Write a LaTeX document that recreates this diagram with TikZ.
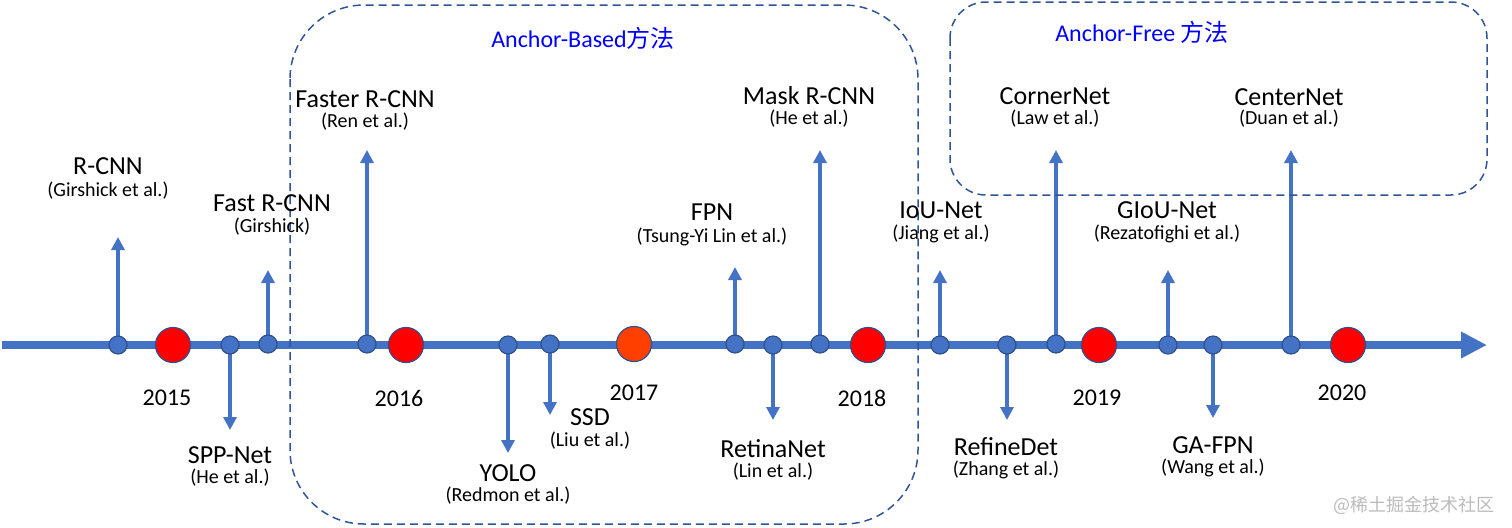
\documentclass[tikz,border=0pt]{standalone}
\usepackage{fontspec}
\setmainfont{Carlito}
\newfontfamily\cjk{Noto Sans CJK SC}
\usetikzlibrary{arrows.meta,backgrounds}
\definecolor{lineblue}{HTML}{4472C4}
\definecolor{edgeblue}{HTML}{2F528F}
\definecolor{boxblue}{HTML}{2F5597}
\definecolor{yearred}{HTML}{FF0000}
\definecolor{orangered}{HTML}{FF3F00}
\definecolor{wmgray}{HTML}{BBBBBB}
\begin{document}
\begin{tikzpicture}[x=0.5pt,y=-0.5pt,
  dot/.style={circle,fill=lineblue,draw=edgeblue,line width=0.6pt,minimum size=9pt,inner sep=0pt},
  yeardot/.style={circle,fill=yearred,draw=edgeblue,line width=0.6pt,minimum size=17.5pt,inner sep=0pt},
  ttl/.style={font=\fontsize{13}{15}\selectfont,inner sep=0pt},
  sub/.style={font=\fontsize{10}{12}\selectfont,inner sep=0pt},
  yr/.style={font=\fontsize{12}{14}\selectfont,inner sep=0pt},
  stem/.style={draw=lineblue,line width=1.6pt,-{Triangle[length=6.5pt,width=6.5pt]}},
  groupbox/.style={draw=boxblue,line width=0.75pt,dash pattern=on 4pt off 2.5pt,rounded corners=#1},
  grouplabel/.style={text=blue,font=\fontsize{12}{14}\selectfont,inner sep=0pt}
]
\useasboundingbox (0,0) rectangle (1512,527);

% group boxes
\draw[groupbox=37pt] (290,5) rectangle (918,524);
\draw[groupbox=18pt] (950,2) rectangle (1487,195);
\node[grouplabel] (gab) at (583,38) {Anchor-Based{\cjk 方法}};
\node[grouplabel] (gaf) at (1142,32) {Anchor-Free {\cjk 方法}};

% timeline ends
\coordinate (tl0) at (2,345);
\coordinate (tl1) at (1487,345);

% small dots
\node[dot] (d1) at (118,345) {};
\node[dot] (d2) at (230,345) {};
\node[dot] (d3) at (268,344) {};
\node[dot] (d4) at (367,344) {};
\node[dot] (d5) at (508,345) {};
\node[dot] (d6) at (550,344) {};
\node[dot] (d7) at (735,344) {};
\node[dot] (d8) at (773,345) {};
\node[dot] (d9) at (820,344) {};
\node[dot] (d10) at (940,345) {};
\node[dot] (d11) at (1007,345) {};
\node[dot] (d12) at (1056,344) {};
\node[dot] (d13) at (1168,345) {};
\node[dot] (d14) at (1213,345) {};
\node[dot] (d15) at (1291,345) {};

% year dots
\node[yeardot] (y15) at (173,345) {};
\node[yeardot] (y16) at (406,345) {};
\node[yeardot,fill=orangered] (y17) at (634,344) {};
\node[yeardot] (y18) at (868,345) {};
\node[yeardot] (y19) at (1099,345) {};
\node[yeardot] (y20) at (1348,345) {};

% year labels
\node[yr] (l15) at (167,398) {2015};
\node[yr] (l16) at (399,398) {2016};
\node[yr] (l17) at (634,393) {2017};
\node[yr] (l18) at (862,398) {2018};
\node[yr] (l19) at (1097,398) {2019};
\node[yr] (l20) at (1342,393) {2020};

% arrow ends
\coordinate (e1) at (118,237);
\coordinate (e2) at (230,430);
\coordinate (e3) at (268,270);
\coordinate (e4) at (367,150);
\coordinate (e5) at (508,453);
\coordinate (e6) at (550,415);
\coordinate (e7) at (735,267);
\coordinate (e8) at (773,420);
\coordinate (e9) at (820,150);
\coordinate (e10) at (940,270);
\coordinate (e11) at (1007,420);
\coordinate (e12) at (1056,150);
\coordinate (e13) at (1168,270);
\coordinate (e14) at (1213,418);
\coordinate (e15) at (1291,150);

% method labels
\node[ttl] (t1) at (108,166) {R-CNN};
\node[sub] (s1) at (108,191) {(Girshick et al.)};
\node[ttl] (t2) at (230,455) {SPP-Net};
\node[sub] (s2) at (230,478) {(He et al.)};
\node[ttl] (t3) at (272,203) {Fast R-CNN};
\node[sub] (s3) at (272,227) {(Girshick)};
\node[ttl] (t4) at (365,99) {Faster R-CNN};
\node[sub] (s4) at (365,122) {(Ren et al.)};
\node[ttl] (t5) at (508,473) {YOLO};
\node[sub] (s5) at (508,496) {(Redmon et al.)};
\node[ttl] (t6) at (590,417) {SSD};
\node[sub] (s6) at (590,441) {(Liu et al.)};
\node[ttl] (t7) at (712,212) {FPN};
\node[sub] (s7) at (712,237) {(Tsung-Yi Lin et al.)};
\node[ttl] (t8) at (773,449) {RetinaNet};
\node[sub] (s8) at (773,472) {(Lin et al.)};
\node[ttl] (t9) at (809,96) {Mask R-CNN};
\node[sub] (s9) at (809,119) {(He et al.)};
\node[ttl] (t10) at (941,210) {IoU-Net};
\node[sub] (s10) at (941,234) {(Jiang et al.)};
\node[ttl] (t11) at (1006,447) {RefineDet};
\node[sub] (s11) at (1006,470) {(Zhang et al.)};
\node[ttl] (t12) at (1055,96) {CornerNet};
\node[sub] (s12) at (1055,119) {(Law et al.)};
\node[ttl] (t13) at (1167,210) {GIoU-Net};
\node[sub] (s13) at (1167,234) {(Rezatofighi et al.)};
\node[ttl] (t14) at (1213,445) {GA-FPN};
\node[sub] (s14) at (1213,468) {(Wang et al.)};
\node[ttl] (t15) at (1289,97) {CenterNet};
\node[sub] (s15) at (1289,119) {(Duan et al.)};

% watermark
\node[text=wmgray,font=\cjk\fontsize{9}{11}\selectfont,inner sep=0pt] (wm) at (1414,505) {@稀土掘金技术社区};

\begin{scope}[on background layer]
\draw[draw=lineblue,line width=4pt,-{Triangle[length=13pt,width=12.5pt]}] (tl0) -- (tl1);
\foreach \i in {1,...,15} {
  \draw[stem] (d\i.center) -- (e\i);
}
\end{scope}
\end{tikzpicture}
\end{document}
